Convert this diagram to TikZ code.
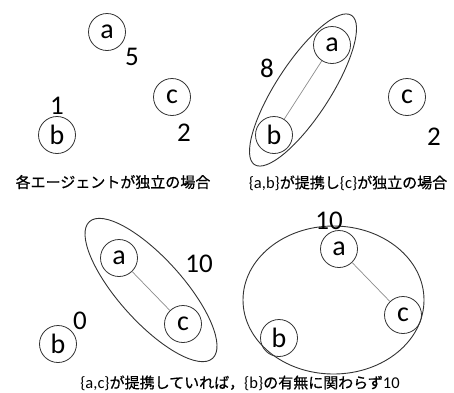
\documentclass[tikz,border=0pt]{standalone}
\usepackage{fontspec}
\setmainfont{Carlito}
\newfontfamily\jp{Noto Sans CJK JP}[AutoFakeBold=0.7]
\begin{document}
\begin{tikzpicture}[x=1pt,y=-1pt,
  agent/.style={draw=black!80,line width=0.8pt,circle,minimum size=37pt,inner sep=0pt,font=\fontsize{28}{28}\selectfont},
  val/.style={inner sep=0pt,font=\fontsize{27}{27}\selectfont},
  caption/.style={inner sep=0pt,font=\fontsize{15}{15}\selectfont\jp\bfseries},
  lat/.style={},
  link/.style={draw=black!45,line width=0.7pt},
  coal/.style={draw=black!80,line width=0.9pt}]
\newcommand\lt[1]{{\fontsize{16.5}{16.5}\selectfont\mdseries\rmfamily #1}}
\useasboundingbox (0,0) rectangle (454,392);
% panel 1
\node[agent] (a1) at (107,32) {a};
\node[agent] (b1) at (57,135) {b};
\node[agent] (c1) at (172,97) {c};
\node[val] (v5) at (132,57) {5};
\node[val] (v1) at (57,106) {1};
\node[val] (v2) at (184,133) {2};
\node[caption] (cap1) at (113,182) {各エージェントが独立の場合};
% panel 2
\coordinate (e2) at (303,90);
\draw[coal,rotate around={57:(e2)}] (e2) ellipse [x radius=89pt,y radius=27pt];
\node[agent] (a2) at (332,45) {a};
\node[agent] (b2) at (274,135) {b};
\node[agent] (c2) at (407,97) {c};
\draw[link] (a2) -- (b2);
\node[val] (v8) at (267,68) {8};
\node[val] (v2b) at (434,137) {2};
\node[caption] (cap2) at (348,183) {\lt{\{a,b\}}が提携し\lt{\{c\}}が独立の場合};
% panel 3
\coordinate (e3) at (151,290);
\draw[coal,rotate around={-48:(e3)}] (e3) ellipse [x radius=92pt,y radius=32pt];
\node[agent] (a3) at (119,258) {a};
\node[agent] (c3) at (183,324) {c};
\node[agent] (b3) at (58,344) {b};
\draw[link] (a3) -- (c3);
\node[val] (v0) at (80,321) {0};
\node[val] (v10) at (199,264) {10};
% panel 4
\coordinate (e4) at (333.5,300);
\draw[coal] (e4) ellipse [x radius=90.5pt,y radius=74pt];
\node[agent] (a4) at (339,249) {a};
\node[agent] (c4) at (403,315) {c};
\node[agent] (b4) at (279,338) {b};
\draw[link] (a4) -- (c4);
\node[val] (v10b) at (329,221) {10};
\node[caption] (cap3) at (240,383) {\lt{\{a,c\}}が提携していれば，\lt{\{b\}}の有無に関わらず\lt{10}};
\end{tikzpicture}
\end{document}
